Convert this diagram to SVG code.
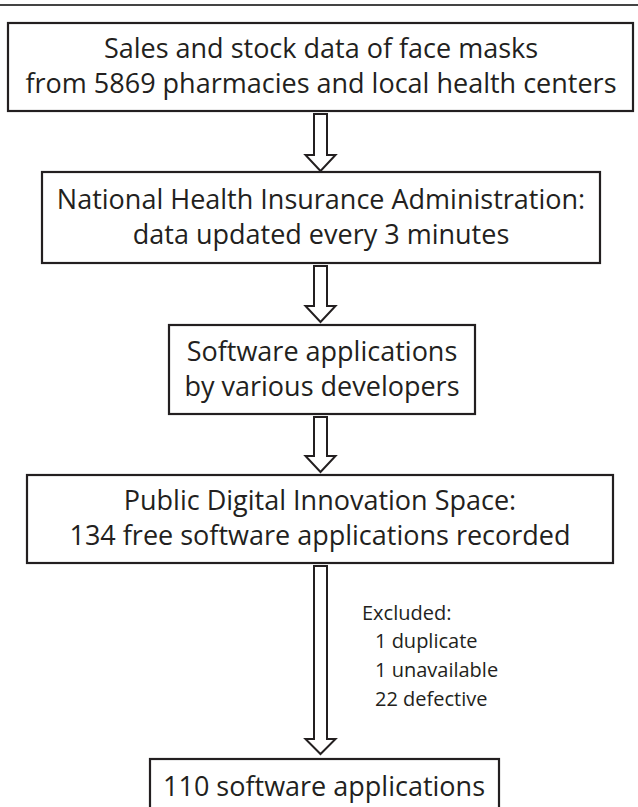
<svg xmlns="http://www.w3.org/2000/svg" width="638" height="807" viewBox="0 0 638 807">
<style>
.box{fill:#fff;stroke:#231f20;stroke-width:2.2}
.t{font-family:"Open Sans","Noto Sans",sans-serif;font-size:27px;fill:#231f20;text-anchor:middle}
.s{font-family:"Open Sans","Noto Sans",sans-serif;font-size:20px;fill:#231f20}
.arr{fill:#fff;stroke:#231f20;stroke-width:2;stroke-linejoin:miter}
</style>
<rect width="638" height="807" fill="#fff"/>
<line x1="0" y1="5" x2="638" y2="5" stroke="#444" stroke-width="2"/>
<g id="node1">
<rect class="box" x="8" y="23" width="625" height="88"/>
<text class="t" x="321" y="58">Sales and stock data of face masks</text>
<text class="t" x="321" y="93">from 5869 pharmacies and local health centers</text>
</g>
<g id="node2">
<rect class="box" x="42" y="172" width="558" height="91"/>
<text class="t" x="321" y="209">National Health Insurance Administration:</text>
<text class="t" x="321" y="244">data updated every 3 minutes</text>
</g>
<g id="node3">
<rect class="box" x="169" y="325" width="306" height="89"/>
<text class="t" x="322" y="361">Software applications</text>
<text class="t" x="322" y="396">by various developers</text>
</g>
<g id="node4">
<rect class="box" x="27" y="475" width="586" height="88"/>
<text class="t" x="320" y="510">Public Digital Innovation Space:</text>
<text class="t" x="320" y="545">134 free software applications recorded</text>
</g>
<g id="node5">
<rect class="box" x="150" y="759" width="349" height="70"/>
<text class="t" x="324" y="796">110 software applications</text>
</g>
<g id="connectors">
<polygon class="arr" points="314,114 327,114 327,155 335.5,155 320.5,171 305.5,155 314,155"/>
<polygon class="arr" points="314,266 327,266 327,306 335.5,306 320.5,322 305.5,306 314,306"/>
<polygon class="arr" points="314,417 327,417 327,456 335.5,456 320.5,472 305.5,456 314,456"/>
<polygon class="arr" points="314,566 327,566 327,739 335.5,739 320.5,754 305.5,739 314,739"/>
</g>
<g id="exclusion">
<text class="s" x="362" y="620">Excluded:</text>
<text class="s" x="375" y="648">1 duplicate</text>
<text class="s" x="375" y="677">1 unavailable</text>
<text class="s" x="375" y="706">22 defective</text>
</g>
</svg>
